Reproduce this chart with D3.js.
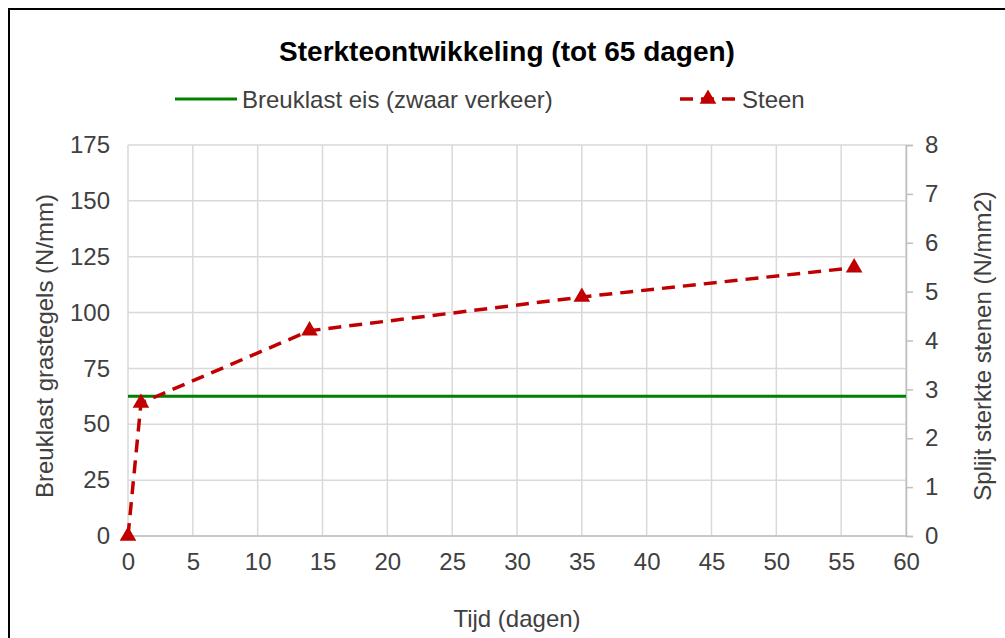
<!DOCTYPE html>
<html>
<head>
  <meta charset="utf-8">
  <title>Sterkteontwikkeling</title>
  <script src="https://d3js.org/d3.v7.min.js"></script>
  <style>
    body { margin: 0; background: #fff; }
    text { font-family: "Liberation Sans", Arial, sans-serif; }
  </style>
</head>
<body>
<div id="chart"></div>
<script>
  // data
  const dagen = [0, 1, 14, 35, 56];
  const steen = [0, 2.72, 4.2, 4.89, 5.49];      // N/mm2 (rechter as)
  const breuklastEis = 62.5;                      // N/mm (linker as)
  const xTicks = d3.range(0, 61, 5);
  const yLeftTicks = d3.range(0, 176, 25);
  const yRightTicks = d3.range(0, 9, 1);

  const W = 1005, H = 638;
  const margin = {top: 145, right: 99, bottom: 102, left: 128};
  const w = W - margin.left - margin.right;
  const h = H - margin.top - margin.bottom;

  const svg = d3.select('#chart').append('svg')
      .attr('width', W).attr('height', H);

  // kader
  svg.append('rect')
     .attr('x', 9).attr('y', 9).attr('width', 1100).attr('height', 700)
     .attr('fill', 'none').attr('stroke', '#000').attr('stroke-width', 2);

  const g = svg.append('g').attr('transform', `translate(${margin.left},${margin.top})`);

  const x = d3.scaleLinear().domain([0, 60]).range([0, w]);
  const yL = d3.scaleLinear().domain([0, 175]).range([h, 0]);
  const yR = d3.scaleLinear().domain([0, 8]).range([h, 0]);

  // gridlijnen
  g.append('g').selectAll('line').data(xTicks).join('line')
     .attr('x1', d => x(d)).attr('x2', d => x(d)).attr('y1', 0).attr('y2', h)
     .attr('stroke', '#d9d9d9').attr('stroke-width', 1.5);
  g.append('g').selectAll('line').data(yLeftTicks).join('line')
     .attr('x1', 0).attr('x2', w).attr('y1', d => yL(d)).attr('y2', d => yL(d))
     .attr('stroke', '#d9d9d9').attr('stroke-width', 1.5);

  // assen
  const fs = '24px';
  const xAxis = g.append('g').attr('transform', `translate(0,${h})`)
     .call(d3.axisBottom(x).tickValues(xTicks).tickSize(0).tickPadding(17));
  const yAxisL = g.append('g')
     .call(d3.axisLeft(yL).tickValues(yLeftTicks).tickSize(0).tickPadding(18));
  const yAxisR = g.append('g').attr('transform', `translate(${w},0)`)
     .call(d3.axisRight(yR).tickValues(yRightTicks).tickSize(7).tickPadding(12));
  [xAxis, yAxisL, yAxisR].forEach(a => {
    a.select('.domain').attr('stroke', '#bfbfbf').attr('stroke-width', 1.5);
    a.selectAll('.tick line').attr('stroke', '#bfbfbf').attr('stroke-width', 1.5);
    a.selectAll('text').attr('font-size', fs).attr('fill', '#404040')
     .attr('font-family', '"Liberation Sans", Arial, sans-serif');
  });
  xAxis.select('.domain').remove();
  yAxisL.select('.domain').remove();
  g.append('line').attr('x1', 0).attr('x2', w).attr('y1', h).attr('y2', h)
     .attr('stroke', '#bfbfbf').attr('stroke-width', 1.5);

  // breuklast eis
  g.append('line')
     .attr('x1', 0).attr('x2', w)
     .attr('y1', yL(breuklastEis)).attr('y2', yL(breuklastEis))
     .attr('stroke', '#008000').attr('stroke-width', 3);

  // steen
  const pts = dagen.map((d, i) => [d, steen[i]]);
  g.append('path').datum(pts)
     .attr('d', d3.line().x(d => x(d[0])).y(d => yR(d[1])))
     .attr('fill', 'none').attr('stroke', '#c00000').attr('stroke-width', 3.5)
     .attr('stroke-dasharray', '13,8');
  g.selectAll('.tri').data(pts).join('path')
     .attr('class', 'tri')
     .attr('transform', d => `translate(${x(d[0])},${yR(d[1])})`)
     .attr('d', d3.symbol(d3.symbolTriangle, 120))
     .attr('fill', '#c00000');

  // titels
  svg.append('text').attr('x', 507).attr('y', 61).attr('text-anchor', 'middle')
     .attr('font-size', '28px').attr('font-weight', 'bold').attr('fill', '#000')
     .text('Sterkteontwikkeling (tot 65 dagen)');

  svg.append('text').attr('x', 517).attr('y', 627).attr('text-anchor', 'middle')
     .attr('font-size', fs).attr('fill', '#404040').text('Tijd (dagen)');
  svg.append('text').attr('transform', 'translate(53,346) rotate(-90)')
     .attr('text-anchor', 'middle').attr('font-size', fs).attr('fill', '#404040')
     .text('Breuklast grastegels (N/mm)');
  svg.append('text').attr('transform', 'translate(991,346) rotate(-90)')
     .attr('text-anchor', 'middle').attr('font-size', fs).attr('fill', '#404040')
     .text('Splijt sterkte stenen (N/mm2)');

  // legenda
  const leg = svg.append('g');
  leg.append('line').attr('x1', 175).attr('x2', 237).attr('y1', 99).attr('y2', 99)
     .attr('stroke', '#008000').attr('stroke-width', 3);
  leg.append('text').attr('x', 242).attr('y', 108).attr('font-size', fs).attr('fill', '#404040')
     .text('Breuklast eis (zwaar verkeer)');
  leg.append('line').attr('x1', 680).attr('x2', 737).attr('y1', 99).attr('y2', 99)
     .attr('stroke', '#c00000').attr('stroke-width', 3.5).attr('stroke-dasharray', '13,8');
  leg.append('path').attr('transform', 'translate(708,99)')
     .attr('d', d3.symbol(d3.symbolTriangle, 120)).attr('fill', '#c00000');
  leg.append('text').attr('x', 742).attr('y', 108).attr('font-size', fs).attr('fill', '#404040')
     .text('Steen');
</script>
</body>
</html>
